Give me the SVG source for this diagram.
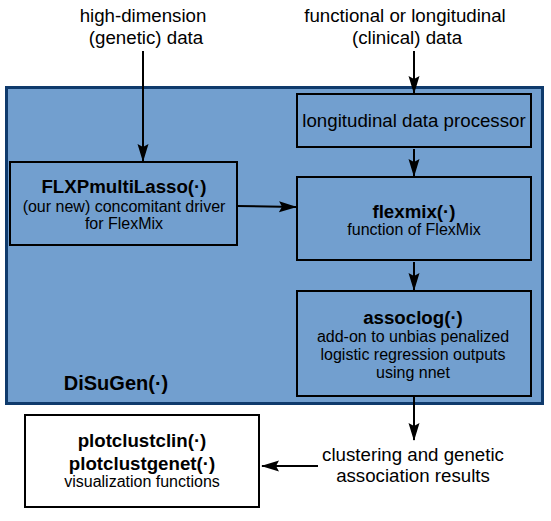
<svg xmlns="http://www.w3.org/2000/svg" width="551" height="521" viewBox="0 0 551 521">
<defs>
<style>
text{font-family:"Liberation Sans",Arial,sans-serif;fill:#000;text-anchor:middle}
.t16{font-size:18.7px}
.t14{font-size:16px}
.b{font-weight:bold;font-size:18.7px}
.inner{fill:#729fcf;stroke:#000;stroke-width:2}
.conn{stroke:#000;stroke-width:2;fill:none;marker-end:url(#ah)}
</style>
<marker id="ah" viewBox="0 0 18 12" markerWidth="18" markerHeight="12" refX="17" refY="6" orient="auto" markerUnits="userSpaceOnUse">
<path d="M0,0.5 L18,6 L0,11.5 L3,6 z" fill="#000"/>
</marker>
</defs>
<rect width="551" height="521" fill="#fff"/>
<g id="disugen">
<rect x="6.5" y="87.5" width="536" height="316" fill="#729fcf" stroke="#0f3a6c" stroke-width="3"/>
<text x="116" y="390" style="font-size:20px;font-weight:bold">DiSuGen(·)</text>
</g>
<g id="input-genetic">
<text class="t16" x="143" y="22">high-dimension</text>
<text class="t16" x="146" y="44">(genetic) data</text>
</g>
<g id="input-clinical">
<text class="t16" x="405" y="22">functional or longitudinal</text>
<text class="t16" x="407" y="44">(clinical) data</text>
</g>
<g id="flxp">
<rect class="inner" x="10" y="162" width="227" height="83"/>
<text class="b" x="124" y="193">FLXPmultiLasso(·)</text>
<text class="t14" x="124" y="212">(our new) concomitant driver</text>
<text class="t14" x="124" y="229">for FlexMix</text>
</g>
<g id="processor">
<rect class="inner" x="297" y="94" width="234" height="53"/>
<text class="t16" x="414" y="127">longitudinal data processor</text>
</g>
<g id="flexmix">
<rect class="inner" x="297" y="177" width="234" height="83"/>
<text class="b" x="414" y="218">flexmix(·)</text>
<text class="t14" x="414" y="235">function of FlexMix</text>
</g>
<g id="assoclog">
<rect class="inner" x="297" y="291" width="234" height="105"/>
<text class="b" x="413" y="324">assoclog(·)</text>
<text class="t14" x="413" y="342">add-on to unbias penalized</text>
<text class="t14" x="413" y="360">logistic regression outputs</text>
<text class="t14" x="413" y="378">using nnet</text>
</g>
<g id="results">
<text class="t16" x="413" y="461">clustering and genetic</text>
<text class="t16" x="413" y="482">association results</text>
</g>
<g id="plot">
<rect x="25" y="415" width="234" height="92" fill="#fff" stroke="#000" stroke-width="2"/>
<text class="b" x="142" y="447">plotclustclin(·)</text>
<text class="b" x="142" y="470">plotclustgenet(·)</text>
<text class="t14" x="142" y="487">visualization functions</text>
</g>
<g id="connectors">
<path class="conn" d="M143,51 V161"/>
<path class="conn" d="M414,51 V93"/>
<path class="conn" d="M414,149 V176"/>
<path class="conn" d="M414,262 V290"/>
<path class="conn" d="M237,206 L296,207"/>
<path class="conn" d="M414,397 V440"/>
<path class="conn" d="M318,466 H262"/>
</g>
</svg>
